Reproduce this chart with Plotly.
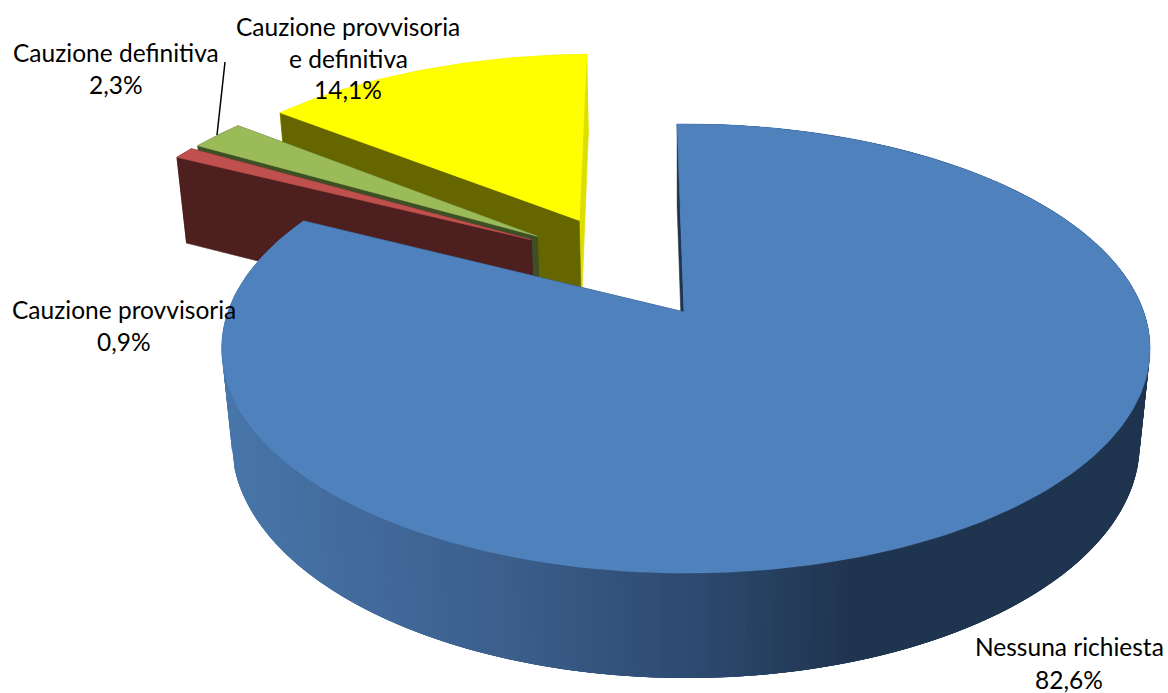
import numpy as np
import plotly.graph_objects as go

# ---- data ----
categories = ["Nessuna richiesta", "Cauzione provvisoria", "Cauzione definitiva", "Cauzione provvisoria e definitiva"]
shares = [82.6, 0.9, 2.3, 14.1]
label_lines = [["Nessuna richiesta"], ["Cauzione provvisoria"], ["Cauzione definitiva"], ["Cauzione provvisoria", "e definitiva"]]

# ---- style ----
face_colors = ["#4f81bd", "#c0504d", "#9bbb59", "#ffff00"]
wall_colors = ["#1f344e", "#4d1f1e", "#3e4e25", "#666600"]
outer_wall_colors = ["#1f344e", "#4d1f1e", "#3e4e25", "#dede00"]
end_wall_colors = ["#1f344e", "#4d1f1e", "#3e4e25", "#dede00"]
explode_uv = [(0.0, 0.0), (-0.353, 0.35), (-0.34, 0.368), (-0.2457, 0.45)]
radius = [1.0, 1.012, 1.012, 1.01]
label_centers = [(1069, [646, 679]), (124, [309, 341]), (116, [52, 84]), (348, [26, 58, 89])]
draw_order = [3, 2, 1, 0]
FONT = "Lato"
FONT_SIZE = 24.5

# projection
CX, CY = 684.0, 312.0
A, B, D = 458.0, 218.6, 96.0
P, Q, R = 0.1626, -0.004, 0.022
ROTATION = -1.0


def project(u, v, z):
    w = 1 + P * v + Q * u + R * z
    return CX + A * u / w, CY - (B * v - D * z) / w


def ramp(x):
    stops_x = [222, 500, 700, 860]
    stops_c = [(0x48, 0x76, 0xaa), (0x3c, 0x5f, 0x8d), (0x2d, 0x4a, 0x70), (0x1f, 0x34, 0x4e)]
    c = [int(round(np.interp(x, stops_x, [s[i] for s in stops_c]))) for i in range(3)]
    return "rgb(%d,%d,%d)" % tuple(c)


fig = go.Figure()


def poly(pts, color, lw=0.6):
    xs = [p[0] for p in pts] + [pts[0][0]]
    ys = [p[1] for p in pts] + [pts[0][1]]
    line = dict(color=color, width=lw)
    fig.add_trace(go.Scatter(x=xs, y=ys, mode="lines", fill="toself", fillcolor=color,
                             line=line, hoverinfo="skip", showlegend=False))


total = sum(shares)
edges = ROTATION + np.concatenate([[0], np.cumsum(shares)]) * 360.0 / total

for i in draw_order:
    a0, a1 = edges[i], edges[i + 1]
    eu, ev = explode_uv[i]
    rad = radius[i]
    n = max(2, int((a1 - a0) / 1.0) + 1)
    angs = np.radians(np.linspace(a0, a1, n))
    us = eu + rad * np.sin(angs)
    vs = ev + rad * np.cos(angs)
    # outer wall
    if i == 0:
        for k in range(n - 1):
            k2 = min(k + 4, n - 1)
            idx = list(range(k, k2 + 1))
            p = [project(us[j], vs[j], 0) for j in idx] + [project(us[j], vs[j], 1) for j in reversed(idx)]
            poly(p, ramp(project(us[k], vs[k], 0)[0]), lw=0)
    else:
        poly([project(us[k], vs[k], 0) for k in range(n)] + [project(us[k], vs[k], 1) for k in range(n - 1, -1, -1)], outer_wall_colors[i])
    # end wall
    poly([project(eu, ev, 0), project(us[-1], vs[-1], 0), project(us[-1], vs[-1], 1), project(eu, ev, 1)], end_wall_colors[i])
    # start wall
    poly([project(eu, ev, 0), project(us[0], vs[0], 0), project(us[0], vs[0], 1), project(eu, ev, 1)], wall_colors[i])
    # top face
    poly([project(eu, ev, 0)] + [project(us[k], vs[k], 0) for k in range(n)], face_colors[i])

# leader line
fig.add_trace(go.Scatter(x=[225, 217], y=[62, 135], mode="lines", line=dict(color="#000000", width=1.5),
                         hoverinfo="skip", showlegend=False))

# labels
annotations = []
for i in range(len(categories)):
    cx, ys = label_centers[i]
    lines = label_lines[i] + [("%.1f%%" % shares[i]).replace(".", ",")]
    for line, y in zip(lines, ys):
        annotations.append(dict(x=cx, y=y, text=line, showarrow=False, xanchor="center", yanchor="middle",
                                font=dict(family=FONT, size=FONT_SIZE, color="#000000")))

fig.update_layout(
    width=1168, height=693, margin=dict(l=0, r=0, t=0, b=0),
    paper_bgcolor="#ffffff", plot_bgcolor="#ffffff", showlegend=False,
    xaxis=dict(range=[0, 1168], visible=False, fixedrange=True),
    yaxis=dict(range=[693, 0], visible=False, fixedrange=True),
    annotations=annotations,
)
fig.write_html("out.html", post_script="document.body.style.margin='0';", config={"displayModeBar": False})
